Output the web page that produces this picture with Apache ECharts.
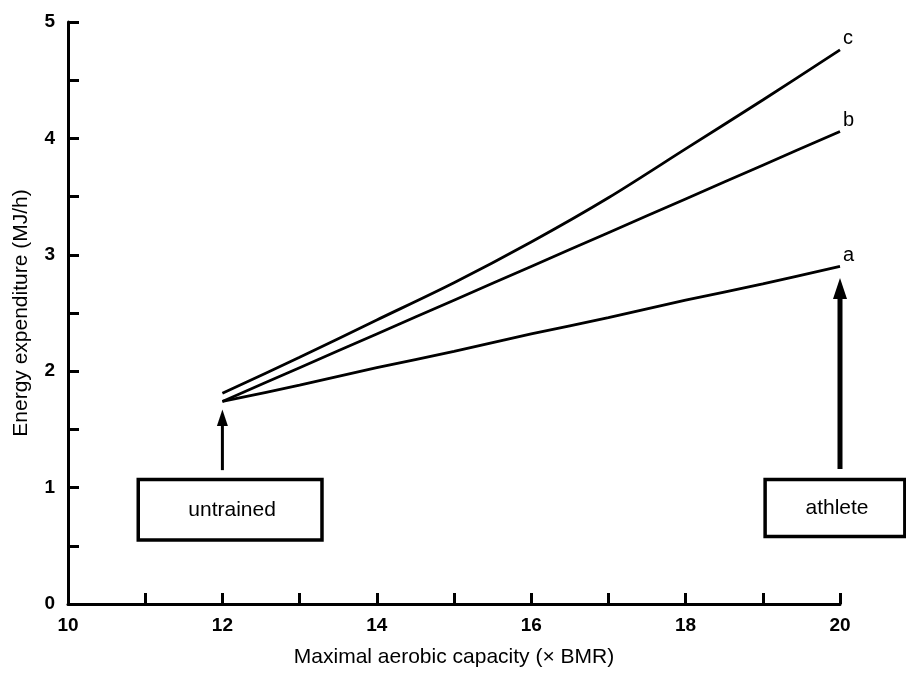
<!DOCTYPE html>
<html>
<head>
<meta charset="utf-8">
<script src="https://cdn.jsdelivr.net/npm/echarts@6/dist/echarts.min.js"></script>
<style>
  html, body { margin: 0; padding: 0; background: #fff; }
  #chart { width: 906px; height: 673px; }
</style>
</head>
<body>
<div id="chart"></div>
<script>
// maximal aerobic capacity (x BMR)
var capacity = [12, 13, 14, 15, 16, 17, 18, 19, 20];
// energy expenditure (MJ/h) for the three curves
var lineA = [1.74, 1.88, 2.03, 2.17, 2.32, 2.46, 2.61, 2.75, 2.90];
var lineB = [1.74, 2.03, 2.32, 2.61, 2.90, 3.19, 3.48, 3.77, 4.06];
var lineC = [1.81, 2.12, 2.44, 2.76, 3.11, 3.49, 3.91, 4.33, 4.76];
var seriesNames = ['a', 'b', 'c'];

// annotation boxes and arrows, in data units
var boxes = [
  { text: 'untrained', x0: 10.91, x1: 13.29, y0: 0.55, y1: 1.07 },
  { text: 'athlete', x0: 19.03, x1: 20.84, y0: 0.58, y1: 1.07 }
];
var arrows = [
  { x: 12, from: 1.15, to: 1.67, width: 3, head: 11 },
  { x: 20, from: 1.16, to: 2.80, width: 5, head: 14 }
];

var FONT = '"Liberation Sans", Arial, sans-serif';

function pairs(ys) {
  return capacity.map(function (x, i) { return [x, ys[i]]; });
}

var chart = echarts.init(document.getElementById('chart'));

function makeSeries(name, ys) {
  return {
    name: name,
    type: 'line',
    data: pairs(ys),
    smooth: 0.3,
    showSymbol: false,
    lineStyle: { color: '#000', width: 2.8 },
    endLabel: {
      show: true,
      formatter: '{a}',
      color: '#000',
      fontFamily: FONT,
      fontSize: 20,
      distance: 3,
      offset: [0, -11]
    },
    emphasis: { disabled: true }
  };
}

var axisLine = { show: true, lineStyle: { color: '#000', width: 3 } };
var axisTick = { show: true, inside: true, length: 11, lineStyle: { color: '#000', width: 3 } };

chart.setOption({
  animation: false,
  grid: { left: 68, right: 66, top: 22, bottom: 65 },
  xAxis: {
    type: 'value',
    min: 10,
    max: 20,
    interval: 1,
    name: 'Maximal aerobic capacity (\u00d7 BMR)',
    nameLocation: 'middle',
    nameGap: 43,
    nameTextStyle: { color: '#000', fontFamily: FONT, fontSize: 21 },
    axisLine: axisLine,
    axisTick: axisTick,
    splitLine: { show: false },
    axisLabel: {
      color: '#000', fontFamily: FONT, fontSize: 19, fontWeight: 'bold', margin: 12,
      formatter: function (v) { return v % 2 === 0 ? String(v) : ''; }
    }
  },
  yAxis: {
    type: 'value',
    min: 0,
    max: 5,
    interval: 0.5,
    name: 'Energy expenditure (MJ/h)',
    nameLocation: 'middle',
    nameGap: 36,
    nameTextStyle: { color: '#000', fontFamily: FONT, fontSize: 21 },
    axisLine: axisLine,
    axisTick: axisTick,
    splitLine: { show: false },
    axisLabel: {
      color: '#000', fontFamily: FONT, fontSize: 19, fontWeight: 'bold', margin: 13,
      formatter: function (v) { return v % 1 === 0 ? String(v) : ''; }
    }
  },
  series: [
    makeSeries(seriesNames[0], lineA),
    makeSeries(seriesNames[1], lineB),
    makeSeries(seriesNames[2], lineC)
  ]
});

// place boxes and arrows through the axes
var graphics = [];
boxes.forEach(function (b) {
  var p0 = chart.convertToPixel({ gridIndex: 0 }, [b.x0, b.y1]);
  var p1 = chart.convertToPixel({ gridIndex: 0 }, [b.x1, b.y0]);
  graphics.push({
    type: 'rect',
    shape: { x: p0[0], y: p0[1], width: p1[0] - p0[0], height: p1[1] - p0[1] },
    style: { fill: '#fff', stroke: '#000', lineWidth: 3.5 },
    z: 10
  });
  graphics.push({
    type: 'text',
    x: (p0[0] + p1[0]) / 2 + 2,
    y: (p0[1] + p1[1]) / 2,
    style: {
      text: b.text, fill: '#000', font: '21px ' + FONT,
      align: 'center', verticalAlign: 'middle'
    },
    z: 11
  });
});
arrows.forEach(function (a) {
  var pFrom = chart.convertToPixel({ gridIndex: 0 }, [a.x, a.from]);
  var pTo = chart.convertToPixel({ gridIndex: 0 }, [a.x, a.to]);
  var headLen = a.head * 1.5;
  graphics.push({
    type: 'line',
    shape: { x1: pFrom[0], y1: pFrom[1], x2: pTo[0], y2: pTo[1] + headLen - 2 },
    style: { stroke: '#000', lineWidth: a.width },
    z: 10
  });
  graphics.push({
    type: 'polygon',
    shape: { points: [[pTo[0], pTo[1]], [pTo[0] - a.head / 2, pTo[1] + headLen], [pTo[0] + a.head / 2, pTo[1] + headLen]] },
    style: { fill: '#000' },
    z: 10
  });
});
chart.setOption({ graphic: graphics });
</script>
</body>
</html>
